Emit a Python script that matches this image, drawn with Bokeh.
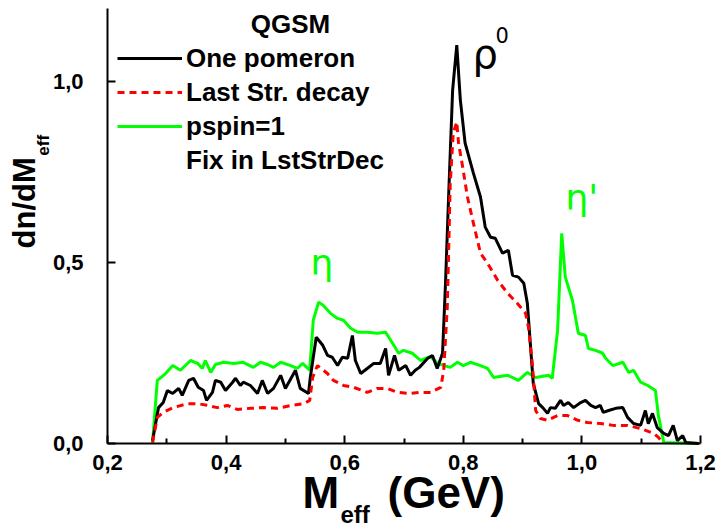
import numpy as np
from bokeh.plotting import figure
from bokeh.models import (Range1d, FixedTicker, CustomJSTickFormatter, Label,
                          Legend, LegendItem, ColumnDataSource)
from bokeh.embed import file_html
from bokeh.resources import INLINE

# ---------------- data ----------------
one_pomeron_x = [0.276, 0.286, 0.294, 0.301, 0.310, 0.320, 0.326, 0.337, 0.345, 0.353, 0.362, 0.367,
                 0.377, 0.382, 0.391, 0.399, 0.411, 0.416, 0.424, 0.429, 0.441, 0.453, 0.461, 0.470,
                 0.480, 0.492, 0.500, 0.517, 0.525, 0.539, 0.542, 0.552, 0.563, 0.571, 0.579, 0.588,
                 0.596, 0.605, 0.613, 0.618, 0.627, 0.638, 0.649, 0.660, 0.669, 0.674, 0.684, 0.691,
                 0.703, 0.711, 0.719, 0.726, 0.740, 0.748, 0.756, 0.765, 0.770, 0.775, 0.782, 0.789,
                 0.795, 0.803, 0.817, 0.829, 0.837, 0.846, 0.854, 0.866, 0.876, 0.883, 0.893, 0.902,
                 0.908, 0.913, 0.918, 0.927, 0.934, 0.942, 0.947, 0.955, 0.964, 0.969, 0.977, 0.986,
                 0.998, 1.006, 1.015, 1.023, 1.031, 1.036, 1.045, 1.057, 1.069, 1.077, 1.087, 1.099,
                 1.107, 1.112, 1.119, 1.127, 1.138, 1.146, 1.154, 1.161, 1.170, 1.175, 1.197]
one_pomeron_y = [0.008, 0.099, 0.113, 0.146, 0.138, 0.152, 0.133, 0.174, 0.180, 0.155, 0.146, 0.119,
                 0.141, 0.174, 0.169, 0.146, 0.169, 0.180, 0.160, 0.169, 0.160, 0.138, 0.174, 0.138,
                 0.152, 0.188, 0.152, 0.202, 0.152, 0.138, 0.182, 0.293, 0.271, 0.243, 0.238, 0.215,
                 0.238, 0.235, 0.298, 0.229, 0.193, 0.207, 0.221, 0.221, 0.262, 0.188, 0.243, 0.202,
                 0.215, 0.188, 0.202, 0.210, 0.235, 0.243, 0.207, 0.249, 0.442, 0.671, 0.975, 1.099,
                 0.948, 0.829, 0.746, 0.680, 0.597, 0.569, 0.566, 0.525, 0.533, 0.464, 0.459, 0.442,
                 0.387, 0.276, 0.166, 0.110, 0.099, 0.083, 0.099, 0.097, 0.119, 0.105, 0.113, 0.099,
                 0.113, 0.119, 0.105, 0.099, 0.105, 0.086, 0.091, 0.097, 0.099, 0.072, 0.055, 0.050,
                 0.091, 0.055, 0.083, 0.044, 0.028, 0.022, 0.050, 0.008, 0.022, 0.003, 0.0]

last_str_x = [0.276, 0.284, 0.294, 0.311, 0.335, 0.352, 0.369, 0.385, 0.402, 0.419, 0.441, 0.463,
              0.487, 0.509, 0.531, 0.541, 0.546, 0.554, 0.571, 0.581, 0.598, 0.615, 0.638, 0.655,
              0.672, 0.689, 0.711, 0.726, 0.745, 0.762, 0.767, 0.773, 0.778, 0.783, 0.789, 0.792,
              0.799, 0.807, 0.817, 0.829, 0.841, 0.858, 0.875, 0.891, 0.905, 0.910, 0.917, 0.922,
              0.930, 0.942, 0.959, 0.976, 0.993, 1.009, 1.031, 1.053, 1.077, 1.099, 1.121, 1.129,
              1.136]
last_str_y = [0.003, 0.072, 0.086, 0.099, 0.110, 0.110, 0.105, 0.099, 0.105, 0.094, 0.097, 0.099,
              0.097, 0.105, 0.110, 0.119, 0.182, 0.215, 0.193, 0.174, 0.160, 0.155, 0.141, 0.152,
              0.152, 0.141, 0.138, 0.141, 0.141, 0.155, 0.202, 0.376, 0.718, 0.856, 0.887, 0.829,
              0.762, 0.680, 0.608, 0.525, 0.497, 0.450, 0.414, 0.387, 0.359, 0.320, 0.210, 0.091,
              0.069, 0.064, 0.077, 0.077, 0.064, 0.058, 0.055, 0.050, 0.050, 0.041, 0.028, 0.017,
              0.003]

pspin_x = [0.276, 0.284, 0.298, 0.310, 0.323, 0.340, 0.352, 0.360, 0.365, 0.374, 0.382, 0.396,
           0.413, 0.429, 0.446, 0.458, 0.470, 0.480, 0.492, 0.509, 0.520, 0.529, 0.541, 0.547,
           0.556, 0.564, 0.576, 0.588, 0.598, 0.610, 0.622, 0.638, 0.655, 0.669, 0.681, 0.691,
           0.699, 0.714, 0.724, 0.728, 0.745, 0.756, 0.778, 0.790, 0.800, 0.812, 0.829, 0.841,
           0.851, 0.875, 0.893, 0.908, 0.922, 0.944, 0.950, 0.959, 0.966, 0.972, 0.984, 0.994,
           1.006, 1.011, 1.023, 1.035, 1.040, 1.052, 1.069, 1.079, 1.087, 1.099, 1.111, 1.124,
           1.129, 1.138, 1.197]
pspin_y = [0.003, 0.174, 0.193, 0.215, 0.202, 0.229, 0.221, 0.207, 0.229, 0.196, 0.218, 0.224,
           0.221, 0.224, 0.210, 0.224, 0.218, 0.210, 0.224, 0.215, 0.207, 0.221, 0.202, 0.340,
           0.390, 0.381, 0.359, 0.345, 0.340, 0.318, 0.307, 0.307, 0.304, 0.307, 0.276, 0.249,
           0.257, 0.249, 0.235, 0.229, 0.240, 0.221, 0.210, 0.224, 0.215, 0.224, 0.215, 0.207,
           0.182, 0.188, 0.174, 0.196, 0.182, 0.188, 0.180, 0.312, 0.580, 0.459, 0.395, 0.304,
           0.298, 0.262, 0.257, 0.249, 0.235, 0.215, 0.224, 0.196, 0.202, 0.169, 0.160, 0.146,
           0.077, 0.003, 0.0]

x_ticks = [0.2, 0.4, 0.6, 0.8, 1.0, 1.2]
x_minor_ticks = [0.3, 0.5, 0.7, 0.9, 1.1]
y_ticks = [0.0, 0.5, 1.0]
x_axis_span = (0.2, 1.2)
y_axis_span = (0.0, 1.2)

legend_labels = ["One pomeron", "Last Str. decay", "pspin=1", "Fix in LstStrDec"]

BLACK = "#000000"
RED = "#ff0000"
GREEN = "#00ff00"
FONT = "Liberation Sans"

# ---------------- figure ----------------
# frame spans the whole canvas; axes are pinned at x=0.2 / y=0 so that all
# titles and subscripts can be drawn inside the frame.
W, H = 720, 532
PX_X = 593.0          # pixels per GeV
PX_Y = 362.5          # pixels per unit of dn/dM
LEFT, BOTTOM = 107, 443
x0 = x_axis_span[0] - LEFT / PX_X
x1 = x0 + W / PX_X
y0 = y_axis_span[0] - (H - BOTTOM) / PX_Y
y1 = y0 + H / PX_Y

p = figure(width=W, height=H, output_backend="svg", toolbar_location=None,
           x_range=Range1d(x0, x1), y_range=Range1d(y0, y1),
           min_border_left=0, min_border_right=0, min_border_top=0, min_border_bottom=0)
p.outline_line_color = None
p.xgrid.visible = False
p.ygrid.visible = False
p.background_fill_color = "white"
p.border_fill_color = "white"

r_green = p.line("x", "y", source=ColumnDataSource(dict(x=pspin_x, y=pspin_y)),
                 line_color=GREEN, line_width=3)
r_black = p.line("x", "y", source=ColumnDataSource(dict(x=one_pomeron_x, y=one_pomeron_y)),
                 line_color=BLACK, line_width=3)
r_red = p.line("x", "y", source=ColumnDataSource(dict(x=last_str_x, y=last_str_y)),
               line_color=RED, line_width=3, line_dash="7 5")
r_dummy = p.line("x", "y", source=ColumnDataSource(dict(x=[], y=[])),
                 line_color=BLACK, line_alpha=0)

fmt = CustomJSTickFormatter(code="return tick.toFixed(1).replace('.', ',');")

xa = p.xaxis[0]
xa.ticker = FixedTicker(ticks=x_ticks, minor_ticks=x_minor_ticks)
xa.formatter = fmt
xa.fixed_location = y_axis_span[0]
xa.bounds = x_axis_span
ya = p.yaxis[0]
ya.ticker = FixedTicker(ticks=y_ticks, minor_ticks=[])
ya.formatter = fmt
ya.fixed_location = x_axis_span[0]
ya.bounds = y_axis_span

for ax in (xa, ya):
    ax.axis_line_width = 2
    ax.axis_line_color = BLACK
    ax.major_tick_in = 8
    ax.major_tick_out = 0
    ax.minor_tick_in = 5
    ax.minor_tick_out = 0
    ax.major_tick_line_width = 2
    ax.minor_tick_line_width = 2
    ax.major_tick_line_color = BLACK
    ax.minor_tick_line_color = BLACK
    ax.major_label_text_font = FONT
    ax.major_label_text_font_style = "bold"
    ax.major_label_text_font_size = "22px"
    ax.major_label_text_color = BLACK
xa.major_label_standoff = 11
ya.major_label_standoff = 24

# ---------------- legend ----------------
legend = Legend(items=[LegendItem(label=legend_labels[0], renderers=[r_black]),
                       LegendItem(label=legend_labels[1], renderers=[r_red]),
                       LegendItem(label=legend_labels[2], renderers=[r_green]),
                       LegendItem(label=legend_labels[3], renderers=[r_dummy])],
                location=(117, H - 177), padding=0, margin=0, spacing=0,
                glyph_width=65, glyph_height=20, label_height=34, label_standoff=4,
                label_text_font=FONT, label_text_font_style="bold",
                label_text_font_size="26px", label_text_color=BLACK,
                background_fill_alpha=0, border_line_alpha=0)
p.add_layout(legend)

SHIFT = 0.42  # rendered alphabetic baseline sits this many font-sizes lower


def lab(text, x, y, size, color=BLACK, bold=True, angle=0.0, align="left",
        baseline="alphabetic", font=FONT):
    if baseline == "alphabetic":
        if angle == 0.0:
            y = y + SHIFT * size / PX_Y
        else:
            x = x - SHIFT * size / PX_X
    p.add_layout(Label(x=x, y=y, text=text, text_font=font,
                       text_font_style="bold" if bold else "normal",
                       text_font_size=f"{size}px", text_color=color, angle=angle,
                       text_align=align, text_baseline=baseline))


lab("QGSM", 0.5086, 1.156, 26, align="center", baseline="middle")

# axis titles with subscripts
lab("M", 0.5288, -0.1848, 44)
lab("eff", 0.5929, -0.224, 24)
lab("(GeV)", 0.6722, -0.1848, 44)
lab("dn/dM", 0.082, 0.538, 31, angle=np.pi / 2)
lab("eff", 0.1039, 0.794, 17, angle=np.pi / 2)

# particle annotations
lab("\u03c1", 0.8155, 1.029, 40, bold=False, font="DejaVu Sans")
lab("0", 0.8543, 1.103, 21, bold=False, font="DejaVu Sans")
lab("\u03b7'", 0.9723, 0.637, 36, color=GREEN, bold=False, font="DejaVu Sans")
lab("\u03b7", 0.5423, 0.458, 36, color=GREEN, bold=False, font="DejaVu Sans")

open("out.html", "w").write(file_html(p, INLINE))
